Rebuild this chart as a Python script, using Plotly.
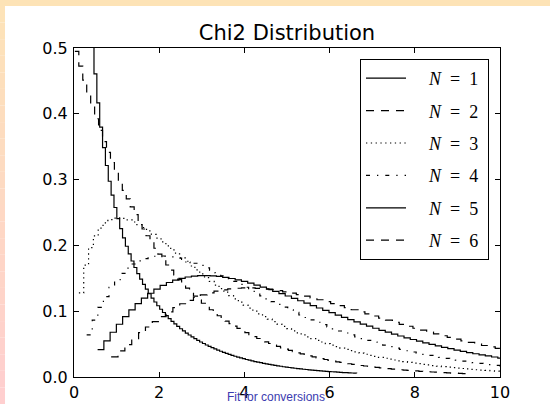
import numpy as np
import plotly.graph_objects as go

TITLE = "Chi2 Distribution"
NOTE = "Fit for conversions"
LEGEND_LABELS = ["<i>N</i>\u2002=\u20021", "<i>N</i>\u2002=\u20022", "<i>N</i>\u2002=\u20023",
                 "<i>N</i>\u2002=\u20024", "<i>N</i>\u2002=\u20025", "<i>N</i>\u2002=\u20026"]
X_TICKS = [0, 2, 4, 6, 8, 10]
Y_TICKS = [0.0, 0.1, 0.2, 0.3, 0.4, 0.5]

# sampling grid of each curve: first and last sample, 100 samples each
X_START = [0.000157, 0.0201, 0.1148, 0.2971, 0.5543, 0.8721]
X_STOP = [6.6349, 9.2103, 11.3449, 13.2767, 15.0863, 16.8119]
N_SAMPLES = 100

Y_N1 = [31.84, 1.4886, 1.0185, 0.8043, 0.6737, 0.5827, 0.5145, 0.4606, 0.4167, 0.3799,
        0.3485, 0.3214, 0.2975, 0.2765, 0.2576, 0.2407, 0.2254, 0.2114, 0.1987, 0.1870,
        0.1763, 0.1664, 0.1572, 0.1487, 0.1407, 0.1334, 0.1265, 0.1200, 0.1140, 0.1083,
        0.1030, 0.0980, 0.0932, 0.0888, 0.0846, 0.0806, 0.0769, 0.0733, 0.0700, 0.0668,
        0.0638, 0.0609, 0.0582, 0.0556, 0.0532, 0.0509, 0.0486, 0.0465, 0.0445, 0.0426,
        0.0408, 0.0391, 0.0374, 0.0358, 0.0343, 0.0329, 0.0315, 0.0302, 0.0290, 0.0278,
        0.0266, 0.0256, 0.0245, 0.0235, 0.0226, 0.0217, 0.0208, 0.0199, 0.0191, 0.0184,
        0.0177, 0.0169, 0.0163, 0.0156, 0.0150, 0.0144, 0.0139, 0.0133, 0.0128, 0.0123,
        0.0118, 0.0114, 0.0109, 0.0105, 0.0101, 0.0097, 0.0093, 0.0090, 0.0086, 0.0083,
        0.0080, 0.0077, 0.0074, 0.0071, 0.0068, 0.0066, 0.0063, 0.0061, 0.0058, 0.0056]

Y_N2 = [0.4950, 0.4726, 0.4511, 0.4307, 0.4111, 0.3925, 0.3747, 0.3577, 0.3415, 0.3260,
        0.3112, 0.2971, 0.2836, 0.2708, 0.2585, 0.2468, 0.2356, 0.2249, 0.2147, 0.2049,
        0.1957, 0.1868, 0.1783, 0.1702, 0.1625, 0.1551, 0.1481, 0.1414, 0.1350, 0.1288,
        0.1230, 0.1174, 0.1121, 0.1070, 0.1022, 0.0975, 0.0931, 0.0889, 0.0849, 0.0810,
        0.0773, 0.0738, 0.0705, 0.0673, 0.0642, 0.0613, 0.0585, 0.0559, 0.0533, 0.0509,
        0.0486, 0.0464, 0.0443, 0.0423, 0.0404, 0.0386, 0.0368, 0.0351, 0.0335, 0.0320,
        0.0306, 0.0292, 0.0279, 0.0266, 0.0254, 0.0242, 0.0231, 0.0221, 0.0211, 0.0201,
        0.0192, 0.0184, 0.0175, 0.0167, 0.0160, 0.0152, 0.0146, 0.0139, 0.0133, 0.0127,
        0.0121, 0.0115, 0.0110, 0.0105, 0.0100, 0.0096, 0.0092, 0.0087, 0.0083, 0.0080,
        0.0076, 0.0073, 0.0069, 0.0066, 0.0063, 0.0060, 0.0058, 0.0055, 0.0052, 0.0050]

Y_N3 = [0.1277, 0.1701, 0.1966, 0.2144, 0.2264, 0.2343, 0.2391, 0.2414, 0.2419, 0.2410,
        0.2388, 0.2356, 0.2317, 0.2272, 0.2222, 0.2168, 0.2112, 0.2053, 0.1993, 0.1932,
        0.1871, 0.1809, 0.1748, 0.1687, 0.1627, 0.1567, 0.1509, 0.1452, 0.1396, 0.1342,
        0.1289, 0.1237, 0.1187, 0.1139, 0.1091, 0.1046, 0.1002, 0.0959, 0.0918, 0.0879,
        0.0841, 0.0804, 0.0769, 0.0735, 0.0702, 0.0671, 0.0640, 0.0611, 0.0584, 0.0557,
        0.0532, 0.0507, 0.0484, 0.0462, 0.0440, 0.0420, 0.0400, 0.0381, 0.0363, 0.0346,
        0.0330, 0.0314, 0.0299, 0.0285, 0.0271, 0.0258, 0.0246, 0.0234, 0.0223, 0.0212,
        0.0202, 0.0192, 0.0183, 0.0174, 0.0165, 0.0157, 0.0150, 0.0142, 0.0135, 0.0129,
        0.0122, 0.0116, 0.0110, 0.0105, 0.0100, 0.0095, 0.0090, 0.0086, 0.0081]

Y_N4 = [0.0640, 0.0864, 0.1057, 0.1222, 0.1362, 0.1479, 0.1576, 0.1655, 0.1717, 0.1764,
        0.1799, 0.1822, 0.1835, 0.1839, 0.1836, 0.1825, 0.1808, 0.1786, 0.1759, 0.1729,
        0.1696, 0.1659, 0.1621, 0.1581, 0.1539, 0.1496, 0.1453, 0.1409, 0.1364, 0.1320,
        0.1276, 0.1232, 0.1188, 0.1145, 0.1103, 0.1062, 0.1021, 0.0981, 0.0942, 0.0904,
        0.0868, 0.0832, 0.0797, 0.0763, 0.0731, 0.0699, 0.0669, 0.0639, 0.0611, 0.0583,
        0.0557, 0.0532, 0.0507, 0.0484, 0.0461, 0.0440, 0.0419, 0.0399, 0.0380, 0.0362,
        0.0345, 0.0328, 0.0312, 0.0297, 0.0282, 0.0268, 0.0255, 0.0242, 0.0230, 0.0219,
        0.0208, 0.0197, 0.0187, 0.0178, 0.0169, 0.0160]

Y_N5 = [0.0416, 0.0550, 0.0680, 0.0802, 0.0917, 0.1021, 0.1116, 0.1200, 0.1273, 0.1337,
        0.1391, 0.1436, 0.1472, 0.1500, 0.1520, 0.1534, 0.1541, 0.1542, 0.1537, 0.1528,
        0.1514, 0.1497, 0.1476, 0.1452, 0.1426, 0.1397, 0.1366, 0.1334, 0.1301, 0.1266,
        0.1231, 0.1195, 0.1159, 0.1122, 0.1085, 0.1049, 0.1013, 0.0977, 0.0941, 0.0906,
        0.0872, 0.0838, 0.0805, 0.0773, 0.0741, 0.0710, 0.0681, 0.0651, 0.0623, 0.0596,
        0.0570, 0.0544, 0.0520, 0.0496, 0.0473, 0.0451, 0.0430, 0.0409, 0.0390, 0.0371,
        0.0353, 0.0336, 0.0320, 0.0304, 0.0288, 0.0274]

Y_N6 = [0.0307, 0.0398, 0.0491, 0.0583, 0.0673, 0.0760, 0.0842, 0.0919, 0.0990, 0.1055,
        0.1113, 0.1165, 0.1210, 0.1248, 0.1280, 0.1305, 0.1325, 0.1340, 0.1349, 0.1353,
        0.1353, 0.1348, 0.1340, 0.1328, 0.1313, 0.1295, 0.1275, 0.1252, 0.1228, 0.1202,
        0.1174, 0.1146, 0.1116, 0.1085, 0.1054, 0.1022, 0.0991, 0.0959, 0.0927, 0.0895,
        0.0863, 0.0832, 0.0801, 0.0771, 0.0741, 0.0711, 0.0682, 0.0654, 0.0627, 0.0601,
        0.0575, 0.0549, 0.0525, 0.0502, 0.0479, 0.0457, 0.0435, 0.0415]

SERIES = [Y_N1, Y_N2, Y_N3, Y_N4, Y_N5, Y_N6]
DASHES = ["solid", "8px,7px", "1.3px,3.5px", "4px,7px,1.3px,7px", "solid", "8px,7px"]

fig = go.Figure()
for k, (ys, name, dash) in enumerate(zip(SERIES, LEGEND_LABELS, DASHES)):
    xs = np.linspace(X_START[k], X_STOP[k], N_SAMPLES)[:len(ys)]
    fig.add_trace(go.Scatter(
        x=xs, y=ys, mode="lines", name="\u2002\u2002" + name + "\u00a0",
        legendgroup="g%d" % k,
        line=dict(color="black", width=1.2, dash=dash, shape="hv"),
        hoverinfo="skip",
    ))

W, H = 550, 404
L, R, T, B = 74, 50, 48, 27
pw, ph = W - L - R, H - T - B


def px_x(p):
    return (p - L) / pw


def px_y(p):
    return (H - B - p) / ph


shapes = [dict(type="rect", xref="paper", yref="paper",
               x0=px_x(0), x1=px_x(W), y0=px_y(6), y1=px_y(0),
               fillcolor="#fde3b6", line=dict(width=0), layer="below")]
steps = 24
c0 = np.array([253, 227, 184])
c1 = np.array([255, 207, 207])
for i in range(steps):
    t = i / (steps - 1)
    c = (c0 * (1 - t) + c1 * t).astype(int)
    y0p = 6 + (H - 6) * i / steps
    y1p = 6 + (H - 6) * (i + 1) / steps
    shapes.append(dict(type="rect", xref="paper", yref="paper",
                       x0=px_x(0), x1=px_x(5), y0=px_y(y1p), y1=px_y(y0p),
                       fillcolor="rgb(%d,%d,%d)" % tuple(c), line=dict(width=0), layer="below"))

axis_common = dict(
    showline=True, linecolor="black", linewidth=1, mirror="allticks",
    ticks="inside", ticklen=5, tickwidth=1, tickcolor="black",
    showgrid=False, zeroline=False, automargin=False,
    tickfont=dict(family="DejaVu Sans", size=16, color="black"),
)

fig.update_layout(
    width=W, height=H,
    margin=dict(l=L, r=R, t=T, b=B, autoexpand=False),
    paper_bgcolor="white", plot_bgcolor="white",
    title=dict(text=TITLE, x=287 / W, xanchor="center",
               y=1 - 33 / H, yanchor="middle", yref="container",
               font=dict(family="DejaVu Sans", size=21, color="black")),
    xaxis=dict(range=[0, 10], tickvals=X_TICKS, ticktext=[str(v) for v in X_TICKS],
               ticklabelstandoff=1, **axis_common),
    yaxis=dict(range=[0, 0.5], tickvals=Y_TICKS, ticktext=["%.1f" % v for v in Y_TICKS],
               ticklabelstandoff=2, **axis_common),
    legend=dict(x=px_x(489), y=px_y(59), xanchor="right", yanchor="top",
                bgcolor="white", bordercolor="black", borderwidth=1,
                font=dict(family="Liberation Serif", size=18, color="black"),
                traceorder="grouped", tracegroupgap=6, itemwidth=40),
    shapes=shapes,
    annotations=[dict(text=NOTE, xref="paper", yref="paper", x=px_x(276), y=px_y(397),
                      xanchor="center", yanchor="middle", showarrow=False,
                      font=dict(family="Liberation Sans", size=12, color="#3b3bb0"))],
    showlegend=True,
)

fig.write_html("out.html",
               config={"displayModeBar": False},
               post_script="document.body.style.margin='0px';"
                           "document.body.style.padding='0px';"
                           "document.documentElement.style.overflow='hidden';")
